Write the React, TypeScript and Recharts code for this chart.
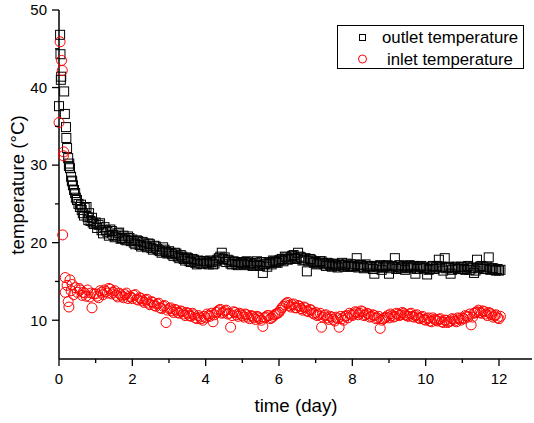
import { ScatterChart, Scatter, XAxis, YAxis } from "recharts";

const FONT = '"Liberation Sans", Arial, Helvetica, sans-serif';

// first day, read point by point (the fast cool-down)
const outletEarlyDays = [
  0.03, 0.04, 0.06, 0.05, 0.14, 0.0, 0.16, 0.19, 0.2, 0.25, 0.28, 0.3, 0.33,
  0.36, 0.38, 0.41, 0.44, 0.49, 0.53, 0.57, 0.62, 0.65, 0.7, 0.75, 0.78, 0.82,
  0.86, 0.9, 0.95, 0.22, 0.27, 0.35, 0.46, 0.6, 0.68, 0.8, 0.92,
];
const outletEarly = [
  46.8, 44.3, 41.4, 41.0, 39.5, 37.6, 36.6, 34.9, 33.5, 30.9, 30.2, 29.6, 28.5,
  27.9, 27.4, 26.8, 26.4, 25.5, 25.0, 24.6, 24.2, 23.8, 24.5, 24.6, 23.3, 23.8,
  22.8, 23.2, 22.4, 32.2, 29.9, 28.0, 25.8, 24.9, 23.5, 22.9, 22.6,
];

const inletEarlyDays = [
  0.03, 0.07, 0.09, 0.0, 0.13, 0.12, 0.1, 0.17, 0.3, 0.17, 0.25, 0.27, 0.22,
  0.36, 0.44, 0.5, 0.58, 0.63, 0.7, 0.78, 0.84, 0.9, 0.95, 0.33, 0.4, 0.55,
  0.66, 0.74, 0.87,
];
const inletEarly = [
  45.9, 43.5, 42.2, 35.5, 31.7, 31.2, 21.0, 15.5, 15.2, 13.6, 12.4, 11.7, 14.5,
  14.6, 14.2, 13.6, 13.9, 13.2, 13.5, 13.9, 13.0, 11.6, 13.4, 13.8, 13.3, 14.1,
  13.6, 13.1, 13.5,
];

// from day 1 on, both probes logged together (two interleaved runs of samples)
const days = [
  1.0, 1.08, 1.16, 1.24, 1.32, 1.4, 1.48, 1.56, 1.64, 1.72, 1.8, 1.88, 1.96,
  2.04, 2.12, 2.2, 2.28, 2.36, 2.44, 2.52, 2.6, 2.68, 2.76, 2.84, 2.92,
  3.0, 3.08, 3.16, 3.24, 3.32, 3.4, 3.48, 3.56, 3.64, 3.72, 3.8, 3.88, 3.96,
  4.04, 4.12, 4.2, 4.28, 4.36, 4.44, 4.52, 4.6, 4.68, 4.76, 4.84, 4.92,
  5.0, 5.08, 5.16, 5.24, 5.32, 5.4, 5.48, 5.56, 5.64, 5.72, 5.8, 5.88, 5.96,
  6.04, 6.12, 6.2, 6.28, 6.36, 6.44, 6.52, 6.6, 6.68, 6.76, 6.84, 6.92,
  7.0, 7.08, 7.16, 7.24, 7.32, 7.4, 7.48, 7.56, 7.64, 7.72, 7.8, 7.88, 7.96,
  8.04, 8.12, 8.2, 8.28, 8.36, 8.44, 8.52, 8.6, 8.68, 8.76, 8.84, 8.92,
  9.0, 9.08, 9.16, 9.24, 9.32, 9.4, 9.48, 9.56, 9.64, 9.72, 9.8, 9.88, 9.96,
  10.04, 10.12, 10.2, 10.28, 10.36, 10.44, 10.52, 10.6, 10.68, 10.76, 10.84, 10.92,
  11.0, 11.08, 11.16, 11.24, 11.32, 11.4, 11.48, 11.56, 11.64, 11.72, 11.8, 11.88, 11.96,
  12.04,
];
const outletTemp = [
  22.6, 22.3, 21.6, 22.0, 21.4, 21.7, 21.0, 20.9, 21.3, 20.6, 20.4, 20.8, 20.2,
  20.0, 20.3, 19.7, 20.1, 19.6, 19.9, 19.3, 19.6, 19.2, 18.9, 19.4, 18.8,
  18.9, 18.5, 18.7, 18.2, 18.4, 17.9, 18.1, 17.6, 17.9, 17.4, 17.7, 17.3, 17.6,
  17.4, 17.7, 17.2, 17.6, 18.0, 18.7, 18.1, 17.8, 17.3, 17.6, 17.2, 17.5,
  17.3, 17.5, 17.1, 17.4, 17.2, 17.6, 17.0, 16.1, 17.3, 17.5, 17.2, 17.6, 17.4,
  17.8, 17.6, 18.1, 17.9, 18.3, 18.0, 18.7, 18.1, 17.8, 16.3, 17.9, 17.6,
  17.5, 17.3, 17.6, 17.2, 17.4, 17.1, 17.3, 17.0, 17.2, 17.4, 17.1, 16.9, 17.2,
  17.0, 18.0, 17.1, 16.9, 17.2, 16.8, 17.0, 16.0, 16.9, 17.1, 16.8, 17.0,
  16.0, 17.0, 18.0, 16.9, 16.7, 17.0, 16.8, 17.1, 16.9, 16.0, 16.8, 17.0, 16.7,
  15.9, 16.6, 17.0, 16.8, 17.8, 16.9, 18.0, 16.8, 16.0, 16.7, 16.9, 16.6,
  16.8, 16.5, 17.0, 16.7, 16.1, 17.8, 16.9, 16.8, 16.6, 18.1, 16.7, 16.5, 16.6,
  16.5,
];
const inletTemp = [
  13.4, 12.9, 13.6, 13.9, 13.5, 14.0, 13.6, 13.2, 13.5, 13.1, 13.3, 12.8, 13.0,
  13.2, 12.7, 12.9, 12.5, 12.6, 12.2, 12.4, 11.9, 12.1, 11.6, 11.8, 9.7,
  11.5, 11.2, 11.4, 11.0, 11.2, 10.8, 11.0, 10.6, 10.9, 10.3, 10.6, 10.2, 10.5,
  10.8, 10.5, 9.8, 11.0, 11.3, 10.9, 11.2, 10.8, 9.1, 11.1, 10.7, 10.9,
  10.6, 10.8, 10.4, 10.6, 10.3, 10.5, 10.2, 9.2, 10.4, 10.6, 10.3, 10.7, 10.9,
  11.3, 11.8, 12.2, 11.9, 12.0, 11.6, 11.9, 11.5, 11.7, 11.2, 11.4, 10.9,
  11.0, 10.7, 9.1, 10.6, 10.3, 10.5, 10.1, 10.4, 9.1, 10.2, 10.5, 10.3, 10.7,
  10.8, 11.0, 10.9, 11.1, 10.7, 10.8, 10.5, 10.6, 10.3, 8.95, 10.2, 10.4,
  10.3, 10.6, 10.5, 10.8, 10.7, 10.9, 10.6, 10.8, 10.5, 10.6, 10.3, 10.4, 10.1,
  10.2, 9.9, 10.3, 10.0, 10.1, 9.8, 10.0, 9.7, 9.9, 10.1, 9.8, 10.2,
  10.3, 10.6, 10.4, 9.4, 10.9, 11.1, 11.0, 11.2, 10.8, 11.0, 10.7, 10.6, 10.3,
  10.5,
];

const daysB = [
  1.04, 1.12, 1.2, 1.28, 1.36, 1.44, 1.52, 1.6, 1.68, 1.76, 1.84, 1.92,
  2.0, 2.08, 2.16, 2.24, 2.32, 2.4, 2.48, 2.56, 2.64, 2.72, 2.8, 2.88, 2.96,
  3.04, 3.12, 3.2, 3.28, 3.36, 3.44, 3.52, 3.6, 3.68, 3.76, 3.84, 3.92,
  4.0, 4.08, 4.16, 4.24, 4.32, 4.4, 4.48, 4.56, 4.64, 4.72, 4.8, 4.88, 4.96,
  5.04, 5.12, 5.2, 5.28, 5.36, 5.44, 5.52, 5.6, 5.68, 5.76, 5.84, 5.92,
  6.0, 6.08, 6.16, 6.24, 6.32, 6.4, 6.48, 6.56, 6.64, 6.72, 6.8, 6.88, 6.96,
  7.04, 7.12, 7.2, 7.28, 7.36, 7.44, 7.52, 7.6, 7.68, 7.76, 7.84, 7.92,
  8.0, 8.08, 8.16, 8.24, 8.32, 8.4, 8.48, 8.56, 8.64, 8.72, 8.8, 8.88, 8.96,
  9.04, 9.12, 9.2, 9.28, 9.36, 9.44, 9.52, 9.6, 9.68, 9.76, 9.84, 9.92,
  10.0, 10.08, 10.16, 10.24, 10.32, 10.4, 10.48, 10.56, 10.64, 10.72, 10.8, 10.88, 10.96,
  11.04, 11.12, 11.2, 11.28, 11.36, 11.44, 11.52, 11.6, 11.68, 11.76, 11.84, 11.92,
  12.0,
];
const outletTempB = [
  21.9, 22.5, 21.2, 21.6, 20.9, 21.5, 20.7, 21.2, 20.5, 20.9, 20.3, 20.6,
  20.4, 19.8, 20.2, 19.5, 19.9, 19.4, 19.8, 19.1, 19.5, 19.0, 18.7, 19.1, 18.6,
  18.7, 18.3, 18.6, 18.0, 18.2, 17.7, 18.0, 17.5, 17.8, 17.2, 17.6, 17.3,
  17.6, 17.2, 17.5, 17.3, 17.8, 18.2, 17.9, 17.5, 17.7, 17.2, 17.5, 17.1, 17.4,
  17.2, 17.6, 17.3, 17.0, 17.4, 17.1, 17.5, 17.2, 16.9, 17.4, 17.7, 17.5,
  17.7, 17.9, 18.2, 17.8, 18.1, 18.4, 17.9, 18.2, 17.7, 18.0, 17.6, 17.8, 17.4,
  17.2, 17.6, 17.4, 17.0, 17.3, 16.9, 17.2, 16.8, 17.1, 16.9, 17.3, 17.0,
  16.9, 17.2, 16.8, 17.1, 16.7, 17.0, 16.9, 16.6, 17.0, 16.8, 16.5, 16.9, 17.1,
  16.7, 16.9, 16.6, 17.1, 16.8, 16.5, 16.9, 16.7, 17.0, 16.6, 16.9, 16.8,
  16.7, 16.5, 16.9, 16.6, 17.0, 16.8, 16.4, 16.7, 16.9, 16.5, 16.8, 16.6, 16.9,
  16.6, 16.9, 16.5, 16.8, 16.4, 16.7, 17.0, 16.6, 16.9, 16.5, 16.7, 16.4,
  16.4,
];
const inletTempB = [
  13.1, 13.8, 13.3, 13.7, 14.1, 13.4, 13.8, 13.0, 13.3, 12.9, 13.5, 13.1,
  12.8, 13.3, 12.6, 12.8, 12.3, 12.7, 12.0, 12.3, 11.8, 12.2, 11.5, 11.9, 11.3,
  11.6, 11.0, 11.3, 10.9, 11.1, 10.6, 10.9, 10.5, 10.7, 10.2, 10.4, 10.0,
  10.3, 10.6, 10.9, 10.7, 11.1, 11.4, 11.0, 11.3, 10.9, 10.6, 11.0, 10.5, 10.8,
  10.4, 10.7, 10.2, 10.5, 10.1, 10.4, 10.0, 10.3, 10.6, 10.2, 10.5, 10.8,
  11.0, 11.6, 12.0, 12.3, 11.7, 12.1, 11.6, 11.8, 11.3, 11.6, 11.1, 11.3, 10.8,
  10.6, 10.9, 10.4, 10.7, 10.1, 10.4, 9.9, 10.2, 10.5, 10.0, 10.6, 10.9,
  10.6, 11.1, 10.7, 11.2, 10.6, 10.9, 10.4, 10.7, 10.2, 10.5, 10.0, 10.3, 10.6,
  10.8, 10.4, 10.9, 10.6, 11.0, 10.7, 10.5, 10.9, 10.4, 10.7, 10.2, 10.5,
  10.0, 10.3, 9.8, 10.1, 9.9, 10.2, 9.7, 10.0, 9.8, 10.2, 9.9, 10.3, 10.0,
  10.2, 10.5, 10.8, 10.4, 11.0, 11.3, 10.9, 11.1, 10.6, 10.9, 10.4, 10.7,
  10.2,
];

const xTicks = [0, 1, 2, 3, 4, 5, 6, 7, 8, 9, 10, 11, 12];
const yTicks = [10, 15, 20, 25, 30, 35, 40, 45, 50];

const outletData = [
  ...outletEarlyDays.map((d, i) => ({ day: d, temp: outletEarly[i] })),
  ...days.map((d, i) => ({ day: d, temp: outletTemp[i] })),
  ...daysB.map((d, i) => ({ day: d, temp: outletTempB[i] })),
];
const inletData = [
  ...inletEarlyDays.map((d, i) => ({ day: d, temp: inletEarly[i] })),
  ...days.map((d, i) => ({ day: d, temp: inletTemp[i] })),
  ...daysB.map((d, i) => ({ day: d, temp: inletTempB[i] })),
];

function SquareMark(props: any) {
  const { cx, cy } = props;
  if (cx == null || cy == null) return null;
  return (
    <rect
      x={cx - 4.5}
      y={cy - 4.5}
      width={9}
      height={9}
      fill="none"
      stroke="#000"
      strokeWidth={1}
    />
  );
}

function CircleMark(props: any) {
  const { cx, cy } = props;
  if (cx == null || cy == null) return null;
  return <circle cx={cx} cy={cy} r={5} fill="none" stroke="#ff0000" strokeWidth={1} />;
}

function XTick(props: any) {
  const { x, y, payload } = props;
  const major = payload.value % 2 === 0;
  return (
    <g>
      <line x1={x} y1={y} x2={x} y2={y + (major ? 7 : 4)} stroke="#000" strokeWidth={1.3} />
      {major && (
        <text x={x} y={y + 25} textAnchor="middle" fontSize={15} fontFamily={FONT} fill="#000">
          {payload.value}
        </text>
      )}
    </g>
  );
}

function YTick(props: any) {
  const { x, y, payload } = props;
  const major = payload.value % 10 === 0;
  return (
    <g>
      <line x1={x} y1={y} x2={x - (major ? 7 : 4)} y2={y} stroke="#000" strokeWidth={1.3} />
      {major && (
        <text x={x - 12} y={y + 5.3} textAnchor="end" fontSize={15} fontFamily={FONT} fill="#000">
          {payload.value}
        </text>
      )}
    </g>
  );
}

export default function App() {
  return (
    <div style={{ position: "absolute", left: 0, top: 0, width: 534, height: 423, background: "#fff" }}>
      <ScatterChart width={534} height={423} margin={{ top: 10, right: 2, bottom: 0, left: 0 }}>
        <XAxis
          type="number"
          dataKey="day"
          domain={[0, 12.9]}
          ticks={xTicks}
          interval={0}
          height={64}
          tickLine={false}
          tickSize={0}
          tickMargin={0}
          axisLine={{ stroke: "#000", strokeWidth: 1.5 }}
          tick={<XTick />}
          label={() => (
            <text x={296} y={412} textAnchor="middle" fontSize={18.7} fontFamily={FONT} fill="#000">
              time (day)
            </text>
          )}
        />
        <YAxis
          type="number"
          dataKey="temp"
          domain={[5, 50]}
          ticks={yTicks}
          interval={0}
          width={59}
          tickLine={false}
          tickSize={0}
          tickMargin={0}
          axisLine={{ stroke: "#000", strokeWidth: 1.5 }}
          tick={<YTick />}
          label={() => (
            <text
              x={17}
              y={185}
              transform="rotate(-90 17 185)"
              textAnchor="middle"
              dominantBaseline="central"
              fontSize={18.7}
              fontFamily={FONT}
              fill="#000"
            >
              temperature (°C)
            </text>
          )}
        />
        <Scatter name="outlet temperature" data={outletData} shape={<SquareMark />} isAnimationActive={false} />
        <Scatter name="inlet temperature" data={inletData} shape={<CircleMark />} isAnimationActive={false} />
      </ScatterChart>
      <svg
        width={534}
        height={423}
        style={{ position: "absolute", left: 0, top: 0, pointerEvents: "none" }}
      >
        <rect x={337.5} y={25.5} width={186} height={43} fill="#fff" stroke="#000" strokeWidth={1} />
        <rect x={359.5} y={34.5} width={6} height={6} fill="none" stroke="#000" strokeWidth={1} />
        <text x={382} y={43} fontSize={16.8} fontFamily={FONT} fill="#000">
          outlet temperature
        </text>
        <circle cx={362.5} cy={59} r={4} fill="none" stroke="#ff0000" strokeWidth={1} />
        <text x={387} y={64.5} fontSize={16.8} fontFamily={FONT} fill="#000">
          inlet temperature
        </text>
      </svg>
    </div>
  );
}
